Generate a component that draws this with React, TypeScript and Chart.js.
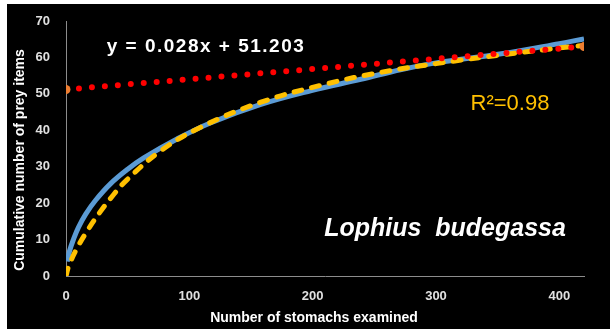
import React, { useEffect, useRef } from 'react';
import { Chart, registerables } from 'chart.js';

Chart.register(...registerables);

const observedStomachs = [1, 3, 6, 10, 16, 24, 36, 50, 63, 90, 117, 158, 199, 239, 272, 300, 353, 400, 420];
const observedPrey = [4, 7, 10, 13.3, 17, 20.8, 25.3, 29.3, 32.4, 37.6, 42, 47.1, 50.9, 54.0, 56.7, 58.5, 61.0, 63.8, 65.1];

const fittedStomachs = [0, 2, 8.7, 18, 27.7, 38.5, 49.4, 76.5, 109, 158, 212, 255, 300, 353, 400, 420];
const fittedPrey = [0, 2.5, 7.5, 12.8, 17.6, 22.3, 26.4, 34.3, 40.8, 47.7, 52.8, 55.9, 58.3, 60.7, 62.6, 63.3];

const trendStomachs = [0, 420];
const trendPrey = [51.2, 63.0];

const xTicks = [0, 100, 200, 300, 400];
const yTicks = [0, 10, 20, 30, 40, 50, 60, 70];

const equationLabel = 'y = 0.028x + 51.203';
const r2Label = 'R\u00b2=0.98';
const speciesLabel = 'Lophius  budegassa';
const xTitle = 'Number of stomachs examined';
const yTitle = 'Cumulative number of prey items';

const FONT = '"Liberation Sans", Arial, sans-serif';

const textPlugin = {
  id: 'annotTexts',
  afterDraw(chart: any) {
    const ctx = chart.ctx as CanvasRenderingContext2D;
    ctx.save();
    ctx.textAlign = 'center';
    ctx.textBaseline = 'middle';

    ctx.fillStyle = '#ffffff';
    ctx.font = `bold 19px ${FONT}`;
    (ctx as any).letterSpacing = '1.5px';
    ctx.fillText(equationLabel, 199, 43);
    (ctx as any).letterSpacing = '0px';

    ctx.fillStyle = '#FFC000';
    ctx.font = `22px ${FONT}`;
    ctx.fillText(r2Label, 503, 100);

    ctx.fillStyle = '#ffffff';
    ctx.font = `italic bold 25px ${FONT}`;
    ctx.fillText(speciesLabel, 438, 225);

    ctx.font = `bold 14px ${FONT}`;
    ctx.fillText(xTitle, 307, 314);

    ctx.translate(13, 156);
    ctx.rotate(-Math.PI / 2);
    ctx.fillText(yTitle, 0, 0);
    ctx.restore();
  },
};

export default function App() {
  const ref = useRef<HTMLCanvasElement>(null);

  useEffect(() => {
    if (!ref.current) return;
    const chart = new Chart(ref.current, {
      type: 'line',
      data: {
        datasets: [
          {
            label: 'Observed',
            data: observedStomachs.map((x, i) => ({ x, y: observedPrey[i] })),
            borderColor: '#5B9BD5',
            borderWidth: 5,
            pointRadius: 0,
            tension: 0.4,
            order: 3,
          },
          {
            label: 'Fitted',
            data: fittedStomachs.map((x, i) => ({ x, y: fittedPrey[i] })),
            borderColor: '#FFC000',
            borderWidth: 5,
            borderDash: [8, 10],
            borderCapStyle: 'round',
            pointRadius: 0,
            tension: 0.4,
            order: 2,
          },
          {
            label: 'Linear',
            data: trendStomachs.map((x, i) => ({ x, y: trendPrey[i] })),
            borderColor: '#FF0000',
            borderWidth: 6,
            borderDash: [0, 13],
            borderCapStyle: 'round',
            pointRadius: 4.5,
            pointBackgroundColor: '#ED7D31',
            pointBorderWidth: 0,
            order: 1,
          },
        ],
      } as any,
      options: {
        responsive: false,
        animation: false,
        layout: { padding: { top: 17, right: 26, left: 0, bottom: 0 } },
        plugins: { legend: { display: false }, tooltip: { enabled: false } },
        scales: {
          x: {
            type: 'linear',
            min: 0,
            max: 420,
            grid: { display: false, drawTicks: false },
            border: { display: true, color: '#8c8c8c', width: 1 },
            afterBuildTicks: (s: any) => {
              s.ticks = xTicks.map((v) => ({ value: v }));
            },
            afterFit: (s: any) => {
              s.height = 53;
              s.paddingLeft = 0;
              s.paddingRight = 0;
            },
            ticks: {
              color: '#e0e0e0',
              font: { family: FONT, size: 13, weight: 'bold' },
              padding: 13,
              maxRotation: 0,
            },
          },
          y: {
            type: 'linear',
            min: 0,
            max: 70,
            grid: { display: false, drawTicks: false },
            border: { display: true, color: '#8c8c8c', width: 1 },
            afterBuildTicks: (s: any) => {
              s.ticks = yTicks.map((v) => ({ value: v }));
            },
            afterFit: (s: any) => {
              s.width = 59;
              s.paddingTop = 0;
              s.paddingBottom = 0;
            },
            ticks: {
              color: '#e0e0e0',
              font: { family: FONT, size: 13, weight: 'bold' },
              padding: 16,
            },
          },
        },
      } as any,
      plugins: [textPlugin],
    });
    return () => chart.destroy();
  }, []);

  return (
    <div style={{ position: 'fixed', left: 7, top: 4, width: 603, height: 325, background: '#000' }}>
      <canvas ref={ref} width={603} height={325} style={{ display: 'block' }} />
    </div>
  );
}
